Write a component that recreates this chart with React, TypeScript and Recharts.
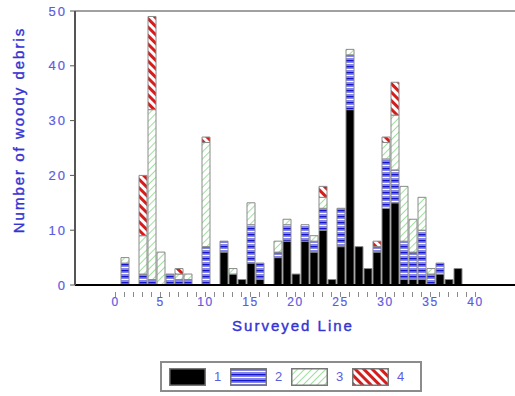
import * as React from "react";
import { BarChart, Bar, XAxis, YAxis, ReferenceLine, Legend, Label } from "recharts";

// surveyed line number and the count of woody debris per class (1..4)
const lines = [0, 1, 2, 3, 4, 5, 6, 7, 8, 9, 10, 11, 12, 13, 14, 15, 16, 17, 18, 19, 20,
  21, 22, 23, 24, 25, 26, 27, 28, 29, 30, 31, 32, 33, 34, 35, 36, 37, 38, 39, 40];
const class1 = [0, 0, 0, 0, 0, 0, 0, 0, 0, 0, 0, 0, 6, 2, 1, 4, 1, 0, 5, 8, 2,
  8, 6, 10, 1, 7, 32, 7, 3, 6, 14, 15, 1, 1, 1, 0, 2, 1, 3, 0, 0];
const class2 = [0, 4, 0, 2, 1, 0, 2, 1, 1, 0, 7, 0, 2, 0, 0, 7, 3, 0, 1, 3, 0,
  3, 2, 4, 0, 7, 10, 0, 0, 1, 9, 6, 7, 5, 9, 2, 2, 0, 0, 0, 0];
const class3 = [0, 1, 0, 7, 31, 6, 0, 1, 1, 0, 19, 0, 0, 1, 0, 4, 0, 0, 2, 1, 0,
  0, 1, 2, 0, 0, 1, 0, 0, 0, 3, 10, 10, 6, 6, 1, 0, 0, 0, 0, 0];
const class4 = [0, 0, 0, 11, 17, 0, 0, 1, 0, 0, 1, 0, 0, 0, 0, 0, 0, 0, 0, 0, 0,
  0, 0, 2, 0, 0, 0, 0, 0, 1, 1, 6, 0, 0, 0, 0, 0, 0, 0, 0, 0];

const yTicks = [0, 10, 20, 30, 40, 50];
const xTicks = lines;

const series = [
  { key: "c1", name: "1", fill: "#000000" },
  { key: "c2", name: "2", fill: "url(#pat2)" },
  { key: "c3", name: "3", fill: "url(#pat3)" },
  { key: "c4", name: "4", fill: "url(#pat4)" },
];

const data = lines.map((l, i) => ({
  line: l,
  c1: class1[i],
  c2: class2[i],
  c3: class3[i],
  c4: class4[i],
}));

const FONT = "'Liberation Sans', Arial, sans-serif";
const TITLE_BLUE = "#3434d4";
const TICK_BLUE = "#5c5ce0";

function XTick(props: any) {
  const { x, y, payload } = props;
  const v = payload.value as number;
  return (
    <g>
      <line x1={x} y1={y - 1} x2={x} y2={y + 4} stroke="#8a8a8a" strokeWidth={1} />
      {v % 5 === 0 && (
        <text x={x} y={y + 13} textAnchor="middle" fill={TICK_BLUE} fontSize={12} fontFamily={FONT} letterSpacing={1.5} stroke={TICK_BLUE} strokeWidth={0.2}>
          {v}
        </text>
      )}
    </g>
  );
}

function LegendBox() {
  return (
    <div
      style={{
        width: 262,
        height: 31,
        border: "2px solid #8c8c8c",
        display: "flex",
        alignItems: "center",
        paddingLeft: 7,
        boxSizing: "border-box",
        fontFamily: FONT,
      }}
    >
      {series.map((s) => (
        <div key={s.key} style={{ display: "flex", alignItems: "center", marginRight: 10 }}>
          <svg width={37} height={18}>
            <rect x={0.75} y={0.75} width={35.5} height={16.5} fill={s.fill} stroke="#777" strokeWidth={1.5} />
          </svg>
          <span style={{ color: TICK_BLUE, fontSize: 13, marginLeft: 8, width: 6 }}>{s.name}</span>
        </div>
      ))}
    </div>
  );
}

export default function App() {
  return (
    <div style={{ position: "absolute", left: 0, top: 0, width: 515, height: 396, overflow: "hidden", background: "#fff" }}>
      <BarChart
        width={525}
        height={396}
        data={data}
        margin={{ top: 11, right: 0, left: 0, bottom: 56 }}
        barSize={8}
      >
        <defs>
          <pattern id="pat2" width="6" height="6" patternUnits="userSpaceOnUse">
            <rect width="6" height="6" fill="#8585e2" />
            <rect y="0" width="6" height="1.3" fill="#1414cc" />
            <rect y="3" width="6" height="1" fill="#ffffff" />
          </pattern>
          <pattern id="pat3" width="5" height="5" patternUnits="userSpaceOnUse" patternTransform="rotate(45)">
            <rect width="5" height="5" fill="#ffffff" />
            <line x1="0" y1="0" x2="0" y2="5" stroke="#6ccf6c" strokeWidth="1.3" />
          </pattern>
          <pattern id="pat4" width="6" height="6" patternUnits="userSpaceOnUse" patternTransform="rotate(-45)">
            <rect width="6" height="6" fill="#ffffff" />
            <line x1="1.5" y1="0" x2="1.5" y2="6" stroke="#d41e1e" strokeWidth="3" />
          </pattern>
        </defs>
        <XAxis
          dataKey="line"
          type="number"
          domain={[-4.5, 45.5]}
          ticks={xTicks}
          interval={0}
          height={55}
          tickLine={false}
          tick={<XTick />}
          axisLine={{ stroke: "#000", strokeWidth: 2 }}
        >
          <Label
            content={() => (
              <text x={293} y={331} textAnchor="middle" fill={TITLE_BLUE} fontSize={15} fontFamily={FONT} letterSpacing={2} stroke={TITLE_BLUE} strokeWidth={0.4}>
                Surveyed Line
              </text>
            )}
          />
        </XAxis>
        <YAxis
          type="number"
          domain={[0, 50]}
          ticks={yTicks}
          width={75}
          tickSize={5}
          tickMargin={3}
          tick={{ fill: TICK_BLUE, fontSize: 13, fontFamily: FONT, letterSpacing: 2, stroke: TICK_BLUE, strokeWidth: 0.2 }}
          axisLine={{ stroke: "#555", strokeWidth: 2 }}
          tickLine={{ stroke: "#555", strokeWidth: 1 }}
        >
          <Label
            content={() => (
              <text
                x={18}
                y={130}
                transform="rotate(-90, 18, 130)"
                textAnchor="middle"
                dominantBaseline="central"
                fill={TITLE_BLUE}
                fontSize={15}
                fontFamily={FONT}
                letterSpacing={2}
                stroke={TITLE_BLUE}
                strokeWidth={0.4}
              >
                Number of woody debris
              </text>
            )}
          />
        </YAxis>
        <ReferenceLine y={50} stroke="#a0a0a0" strokeWidth={2} />
        <Legend
          layout="horizontal"
          verticalAlign="middle"
          align="center"
          wrapperStyle={{ left: 160, top: 361, width: 262, height: 31 }}
          content={() => <LegendBox />}
        />
        {series.map((s) => (
          <Bar
            key={s.key}
            dataKey={s.key}
            name={s.name}
            stackId="a"
            fill={s.fill}
            stroke="#8a8a8a"
            strokeWidth={1}
            isAnimationActive={false}
          />
        ))}
      </BarChart>
    </div>
  );
}
